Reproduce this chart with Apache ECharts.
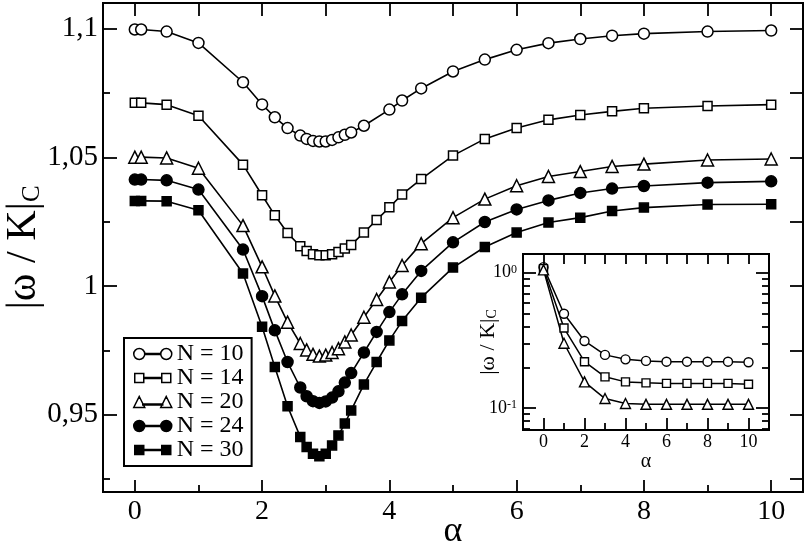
<!DOCTYPE html>
<html>
<head>
<meta charset="utf-8">
<script src="https://cdn.jsdelivr.net/npm/echarts@6/dist/echarts.min.js"></script>
<style>
html, body { margin: 0; padding: 0; background: #fff; }
#chart { width: 806px; height: 547px; }
</style>
</head>
<body>
<div id="chart"></div>
<script>
// alpha values of the main panel (N = 10 has no point at 3.8)
var alphaN10 = [0, 0.1, 0.5, 1, 1.7, 2, 2.2, 2.4, 2.6, 2.7, 2.8, 2.9, 3, 3.1, 3.2, 3.3, 3.4, 3.6, 4, 4.2, 4.5, 5, 5.5, 6, 6.5, 7, 7.5, 8, 9, 10];
var alphaFine = [0, 0.1, 0.5, 1, 1.7, 2, 2.2, 2.4, 2.6, 2.7, 2.8, 2.9, 3, 3.1, 3.2, 3.3, 3.4, 3.6, 3.8, 4, 4.2, 4.5, 5, 5.5, 6, 6.5, 7, 7.5, 8, 9, 10];

// |omega/K|_C
var omegaN10 = [1.0997, 1.0997, 1.0989, 1.0945, 1.0792, 1.0706, 1.0656, 1.0614, 1.0585, 1.0572, 1.0564, 1.0562, 1.0562, 1.0568, 1.0578, 1.0588, 1.0597, 1.0623, 1.0686, 1.0721, 1.0768, 1.0834, 1.0880, 1.0918, 1.0944, 1.0960, 1.0973, 1.0981, 1.0989, 1.0993];
var omegaN14 = [1.0712, 1.0712, 1.0705, 1.0662, 1.0472, 1.0353, 1.0275, 1.0206, 1.0155, 1.0136, 1.0124, 1.0120, 1.0120, 1.0124, 1.0133, 1.0146, 1.0160, 1.0208, 1.0257, 1.0306, 1.0356, 1.0416, 1.0507, 1.0572, 1.0614, 1.0646, 1.0665, 1.0679, 1.0691, 1.0700, 1.0705];
var omegaN20 = [1.0501, 1.0501, 1.0498, 1.0458, 1.0235, 1.0075, 0.9962, 0.9860, 0.9777, 0.9752, 0.9735, 0.9728, 0.9732, 0.9742, 0.9757, 0.9783, 0.9810, 0.9879, 0.9948, 1.0016, 1.0080, 1.0165, 1.0266, 1.0338, 1.0390, 1.0426, 1.0445, 1.0465, 1.0474, 1.0490, 1.0494];
var omegaN24 = [1.0414, 1.0414, 1.0411, 1.0375, 1.0142, 0.9961, 0.9828, 0.9705, 0.9606, 0.9572, 0.9553, 0.9546, 0.9552, 0.9567, 0.9591, 0.9625, 0.9662, 0.9742, 0.9822, 0.9899, 0.9968, 1.0059, 1.0170, 1.0249, 1.0298, 1.0333, 1.0362, 1.0379, 1.0389, 1.0402, 1.0407];
var omegaN30 = [1.0331, 1.0331, 1.0330, 1.0295, 1.0049, 0.9842, 0.9686, 0.9533, 0.9414, 0.9375, 0.9349, 0.9339, 0.9349, 0.9381, 0.9420, 0.9466, 0.9517, 0.9618, 0.9705, 0.9789, 0.9864, 0.9955, 1.0072, 1.0152, 1.0208, 1.0247, 1.0266, 1.0292, 1.0305, 1.0317, 1.0318];

// inset (log scale)
var alphaInset = [0, 1, 2, 3, 4, 5, 6, 7, 8, 9, 10];
var insetN10 = [1.0997, 0.497, 0.313, 0.247, 0.229, 0.223, 0.220, 0.220, 0.220, 0.220, 0.218];
var insetN14 = [1.0712, 0.390, 0.220, 0.170, 0.156, 0.1535, 0.152, 0.152, 0.152, 0.152, 0.150];
var insetN20 = [1.0501, 0.301, 0.156, 0.1175, 0.108, 0.1065, 0.1065, 0.1065, 0.1065, 0.1065, 0.1065];

var seriesNames = ['N = 10', 'N = 14', 'N = 20', 'N = 24', 'N = 30'];

// tick positions
var xTicks = [0, 2, 4, 6, 8, 10];
var xMinorTicks = [1, 3, 5, 7, 9];
var xAllTicks = [0, 1, 2, 3, 4, 5, 6, 7, 8, 9, 10];
var yTicks = [0.95, 1, 1.05, 1.1];
var yMinorTicks = [0.925, 0.975, 1.025, 1.075];
var yAllTicks = [0.925, 0.95, 0.975, 1, 1.025, 1.05, 1.075, 1.1];
var insetYTicks = [0.1, 1];
var insetYMinorTicks = [0.07, 0.08, 0.09, 0.2, 0.3, 0.4, 0.5, 0.6, 0.7, 0.8, 0.9];

var font = 'Liberation Serif';

function pairs(xs, ys) {
    return xs.map(function (x, i) { return [x, ys[i]]; });
}

function axis(gridIndex, pos, min, max, type) {
    return {
        type: type || 'value',
        gridIndex: gridIndex,
        position: pos,
        min: min,
        max: max,
        z: 6,
        nameMoveOverlap: false,
        axisLine: { show: false, onZero: false },
        splitLine: { show: false },
        axisLabel: { show: false },
        axisTick: { show: false }
    };
}

function withTicks(ax, values, len) {
    ax.axisTick = {
        show: true, inside: true, length: len, customValues: values,
        lineStyle: { color: '#000', width: 1.8 }
    };
    return ax;
}

// marker look of the five curves
var looks = [
    { symbol: 'circle', size: 11, fill: '#fff', inset: 9 },
    { symbol: 'rect', size: 9, fill: '#fff', inset: 8 },
    { symbol: 'triangle', size: 12, fill: '#fff', inset: 10 },
    { symbol: 'circle', size: 11, fill: '#000' },
    { symbol: 'rect', size: 9, fill: '#000' }
];

// legend icons: marker - line - marker, 38 x 11
var legendIcons = {
    circle: 'path://M0,5.5A5.5,5.5 0 1,1 11,5.5A5.5,5.5 0 1,1 0,5.5Z M11,4.9L27,4.9L27,6.1L11,6.1Z M27,5.5A5.5,5.5 0 1,1 38,5.5A5.5,5.5 0 1,1 27,5.5Z',
    rect: 'path://M1,1L10,1L10,10L1,10Z M10,4.9L28,4.9L28,6.1L10,6.1Z M28,1L37,1L37,10L28,10Z M0,0L0,0Z M38,11L38,11Z',
    triangle: 'path://M5.5,0L11,11L0,11Z M9,7.4L29,7.4L29,8.6L9,8.6Z M32.5,0L38,11L27,11Z'
};

var mainData = [omegaN10, omegaN14, omegaN20, omegaN24, omegaN30];
var mainAlpha = [alphaN10, alphaFine, alphaFine, alphaFine, alphaFine];
var insetData = [insetN10, insetN14, insetN20];

var series = [];
mainData.forEach(function (vals, i) {
    series.push({
        name: seriesNames[i],
        type: 'line',
        xAxisIndex: 0,
        yAxisIndex: 0,
        data: pairs(mainAlpha[i], vals),
        symbol: looks[i].symbol,
        symbolSize: looks[i].size,
        showAllSymbol: true,
        lineStyle: { color: '#000', width: 1.6 },
        itemStyle: { color: looks[i].fill, borderColor: '#000', borderWidth: 1.5 },
        z: 3
    });
});
insetData.forEach(function (vals, i) {
    series.push({
        name: 'inset ' + seriesNames[i],
        type: 'line',
        xAxisIndex: 3,
        yAxisIndex: 3,
        data: pairs(alphaInset, vals),
        symbol: looks[i].symbol,
        symbolSize: looks[i].inset,
        showAllSymbol: true,
        lineStyle: { color: '#000', width: 1.5 },
        itemStyle: { color: looks[i].fill, borderColor: '#000', borderWidth: 1.4 },
        z: 5
    });
});

// main x axes
var xMain = withTicks(axis(0, 'bottom', -0.5, 10.5), xTicks, 12);
xMain.axisLabel = { show: true, customValues: xTicks, fontFamily: font, fontSize: 28, color: '#000', margin: 6 };
xMain.name = 'α';
xMain.nameLocation = 'middle';
xMain.nameGap = 22;
xMain.nameTextStyle = { fontFamily: font, fontSize: 36, color: '#000' };
var xMainMinor = withTicks(axis(0, 'bottom', -0.5, 10.5), xMinorTicks, 7);
var xMainTop = withTicks(axis(0, 'top', -0.5, 10.5), xAllTicks, 13);

// inset x axes
var xInset = withTicks(axis(1, 'bottom', -1, 11), xTicks, 12);
xInset.axisLabel = { show: true, customValues: xTicks, fontFamily: font, fontSize: 18, color: '#000', margin: 3 };
xInset.name = 'α';
xInset.nameLocation = 'middle';
xInset.nameGap = 22;
xInset.nameTextStyle = { fontFamily: font, fontSize: 20, color: '#000' };
var xInsetMinor = withTicks(axis(1, 'bottom', -1, 11), xMinorTicks, 7);
var xInsetTop = withTicks(axis(1, 'top', -1, 11), xAllTicks, 10);

// main y axes
var yMain = withTicks(axis(0, 'left', 0.92, 1.11), yTicks, 14);
yMain.axisLabel = {
    show: true, customValues: yTicks, fontFamily: font, fontSize: 29, color: '#000', margin: 5,
    formatter: function (v) { return String(v).replace('.', ','); }
};
yMain.name = '|ω / K|{sub|C}';
yMain.nameLocation = 'middle';
yMain.nameGap = 58;
yMain.nameTextStyle = {
    fontFamily: font, fontSize: 42, color: '#000',
    rich: { sub: { fontFamily: font, fontSize: 25, color: '#000', verticalAlign: 'bottom' } }
};
var yMainMinor = withTicks(axis(0, 'left', 0.92, 1.11), yMinorTicks, 7);
var yMainRight = withTicks(axis(0, 'right', 0.92, 1.11), yAllTicks, 13);

// inset y axes (log)
var yInset = withTicks(axis(1, 'left', 0.0688, 1.375, 'log'), insetYTicks, 13);
yInset.logBase = 10;
yInset.axisLabel = {
    show: true, customValues: insetYTicks, fontFamily: font, fontSize: 18, color: '#000', margin: 6,
    formatter: function (v) { return v > 0.5 ? '10{sup|0}' : '10{sup|-1}'; },
    rich: { sup: { fontFamily: font, fontSize: 12, color: '#000', verticalAlign: 'top', lineHeight: 12 } }
};
yInset.name = '|ω / K|{sub|C}';
yInset.nameLocation = 'middle';
yInset.nameGap = 24;
yInset.nameTextStyle = {
    fontFamily: font, fontSize: 22, color: '#000',
    rich: { sub: { fontFamily: font, fontSize: 14, color: '#000', verticalAlign: 'bottom' } }
};
var yInsetMinor = withTicks(axis(1, 'left', 0.0688, 1.375, 'log'), insetYMinorTicks, 7);
var yInsetRight = withTicks(axis(1, 'right', 0.0688, 1.375, 'log'), insetYTicks, 13);
var yInsetRightMinor = withTicks(axis(1, 'right', 0.0688, 1.375, 'log'), insetYMinorTicks, 7);

var chart = echarts.init(document.getElementById('chart'), null, { renderer: 'canvas' });
chart.setOption({
    animation: false,
    backgroundColor: '#fff',
    grid: [
        { left: 103, right: 3, top: 3, bottom: 55, show: true, borderColor: '#000', borderWidth: 2,
          backgroundColor: 'transparent', containLabel: false, outerBoundsMode: 'none' },
        { left: 523, width: 246, top: 254, height: 176, show: true, borderColor: '#000', borderWidth: 2,
          backgroundColor: 'transparent', containLabel: false, outerBoundsMode: 'none' }
    ],
    legend: {
        orient: 'vertical',
        left: 124,
        top: 338,
        padding: [4, 8, 4, 9],
        itemGap: 0,
        itemWidth: 38,
        itemHeight: 11,
        borderColor: '#000',
        borderWidth: 2,
        backgroundColor: '#fff',
        selectedMode: false,
        textStyle: { fontFamily: font, fontSize: 24, color: '#000', lineHeight: 24 },
        data: seriesNames.map(function (n, i) {
            return {
                name: n,
                icon: legendIcons[looks[i].symbol],
                itemStyle: { color: looks[i].fill, borderColor: '#000', borderWidth: 1.5 }
            };
        })
    },
    xAxis: [xMain, xMainMinor, xMainTop, xInset, xInsetMinor, xInsetTop],
    yAxis: [yMain, yMainMinor, yMainRight, yInset, yInsetMinor, yInsetRight, yInsetRightMinor],
    series: series
});
</script>
</body>
</html>
